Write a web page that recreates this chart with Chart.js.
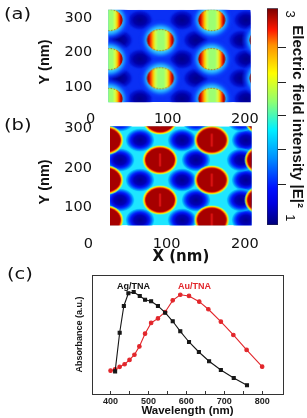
<!DOCTYPE html>
<html>
<head>
<meta charset="utf-8">
<script src="https://cdn.jsdelivr.net/npm/chart.js@4.4.1/dist/chart.umd.min.js"></script>
<style>
  html, body { margin: 0; padding: 0; background: #fff; overflow: hidden; }
  #wrap { position: relative; width: 307px; height: 418px; }
  canvas { position: absolute; }
  .lbl { position: absolute; white-space: nowrap; color: #111; }
  .panel { font-family: 'DejaVu Sans'; font-size: 15px; line-height: 15px; transform: scaleX(1.3); transform-origin: left top; }
  .series { font-family: 'Liberation Sans'; font-weight: bold; font-size: 9px; line-height: 9px; }
</style>
</head>
<body>
<div id="wrap">
  <canvas id="mapA" width="260" height="125" style="left:0;top:0"></canvas>
  <canvas id="mapB" width="260" height="152" style="left:0;top:118px"></canvas>
  <canvas id="cbar" width="52" height="235" style="left:255px;top:0"></canvas>
  <canvas id="spec" width="300" height="156" style="left:0;top:262px"></canvas>
  <div class="lbl panel" style="left:4px;top:7px">(a)</div>
  <div class="lbl panel" style="left:4px;top:118px">(b)</div>
  <div class="lbl panel" style="left:7px;top:267px">(c)</div>
  <div class="lbl series" style="left:117px;top:282px">Ag/TNA</div>
  <div class="lbl series" style="left:178px;top:282px;color:#e2262b">Au/TNA</div>
</div>
<script>
// ---- field maps, positions in nm ----
const mapXTicks = [0, 100, 200]
const mapYTicks = [100, 200, 300]

// (a)
const aXRange = [23, 207.5]
const aYRange = [56, 324]
const aPartX = [24, 157, 24, 157, 24, 157, 90.5, 223.5, 90.5, 223.5]
const aPartY = [294, 294, 181, 181, 66, 66, 236, 236, 125.5, 125.5]
const aDarkX = [64, 118.5, 201.5, 64, 118.5, 201.5, 64, 118.5, 201.5, 38, 136.5, 195, 38, 136.5, 195]
const aDarkY = [294, 294, 294, 181, 181, 181, 66, 66, 66, 236, 236, 236, 125.5, 125.5, 125.5]

// (b)
const bXRange = [27.7, 208.7]
const bYRange = [54, 305]
const bPartX = [22.5, 157.6, 22.5, 157.6, 22.5, 157.6, 91.6, 222, 91.6, 222, 91.6, 222]
const bPartY = [270, 270, 169, 169, 68, 68, 321, 321, 220, 220, 118.5, 118.5]
const bDarkX = [66, 119.7, 201.4, 66, 119.7, 201.4, 66, 119.7, 201.4, 40.5, 137.5, 195, 40.5, 137.5, 195, 40.5, 137.5, 195]
const bDarkY = [270, 270, 270, 169, 169, 169, 68, 68, 68, 321, 321, 321, 220, 220, 220, 118.5, 118.5, 118.5]

// colour bar
const cbarRange = [0.931, 3.056]
const cbarTicks = [1, 1.333, 1.667, 2, 2.333, 2.667, 3]
const cbarLabelled = [1, 3]

// (c) absorbance spectra
const agWl = [412, 424, 435, 447, 461, 477, 491, 507, 525, 544, 564, 584, 607, 633, 660, 691, 725, 760]
const agAbs = [0.19, 0.515, 0.74, 0.846, 0.857, 0.824, 0.792, 0.779, 0.74, 0.683, 0.611, 0.527, 0.437, 0.353, 0.275, 0.202, 0.134, 0.073]
const auWl = [400, 412, 424, 437, 450, 463, 476, 491, 507, 525, 544, 564, 584, 607, 634, 658, 691, 724, 759, 800]
const auAbs = [0.196, 0.207, 0.228, 0.25, 0.286, 0.33, 0.40, 0.507, 0.597, 0.635, 0.689, 0.787, 0.834, 0.824, 0.776, 0.712, 0.608, 0.496, 0.37, 0.23]
const specTicks = [400, 450, 500, 550, 600, 650, 700, 750, 800]

// jet-like colour map of the bar, bottom to top
const jetStops = [[0, '#00007a'], [0.1, '#0000e0'], [0.17, '#0010ff'], [0.31, '#0090ff'], [0.44, '#00f0ff'],
  [0.57, '#90ff70'], [0.7, '#ffff00'], [0.83, '#ff9000'], [0.9, '#ff1800'], [1, '#7a0000']]

Chart.defaults.font.family = 'Liberation Sans'
Chart.defaults.color = '#111'

const pts = (xs, ys) => xs.map((x, i) => ({ x: x, y: ys[i] }))
//fixed axis boxes, no extra label padding so the plot areas land where they should
const noPad = (s) => { s.paddingLeft = 0; s.paddingRight = 0; s.paddingTop = 0; s.paddingBottom = 0 }
const fixW = (w) => (s) => { s.width = w; noPad(s) }
const fixH = (h) => (s) => { s.height = h; noPad(s) }
const setTicks = (vals) => (s) => { s.ticks = vals.map((v) => ({ value: v })) }

//small sprites used as point styles
function sprite(w, h, paint) {
    const c = document.createElement('canvas')
    c.width = w
    c.height = h
    paint(c.getContext('2d'), w / 2, h / 2)
    return c
}
function ellipse(g, cx, cy, rx, ry) {
    g.beginPath()
    g.ellipse(cx, cy, rx, ry, 0, 0, Math.PI * 2)
}
function softBlob(g, cx, cy, rx, ry, stops) {
    g.save()
    g.translate(cx, cy)
    g.scale(1, ry / rx)
    const rg = g.createRadialGradient(0, 0, 0, 0, 0, rx)
    stops.forEach((s) => rg.addColorStop(s[0], s[1]))
    g.fillStyle = rg
    g.beginPath()
    g.arc(0, 0, rx, 0, Math.PI * 2)
    g.fill()
    g.restore()
}

const partA = sprite(30, 26, (g, cx, cy) => {
    const lg = g.createLinearGradient(cx - 13.5, 0, cx + 13.5, 0)
    const st = [[0, '#780000'], [0.08, '#cc0000'], [0.16, '#ff5a00'], [0.24, '#ffd000'], [0.32, '#d0ff50'],
        [0.42, '#9cff72'], [0.62, '#9cff72'], [0.72, '#d8ff48'], [0.8, '#ffc800'], [0.87, '#ff4a00'],
        [0.93, '#c80000'], [1, '#7a0000']]
    st.forEach((s) => lg.addColorStop(s[0], s[1]))
    g.fillStyle = lg
    ellipse(g, cx, cy, 13.5, 11)
    g.fill()
    g.setLineDash([1.5, 1.5])
    g.lineWidth = 0.9
    g.strokeStyle = 'rgba(170,40,0,0.85)'
    ellipse(g, cx, cy, 13, 10.6)
    g.stroke()
})
const haloA = sprite(50, 50, (g, cx, cy) => {
    softBlob(g, cx, cy, 22, 21, [[0, '#40d0ff'], [0.58, '#34c0ff'], [0.68, '#1a8cff'],
        [0.82, 'rgba(10,70,255,0.7)'], [1, 'rgba(10,48,245,0)']])
})
const darkA = sprite(32, 26, (g, cx, cy) => {
    softBlob(g, cx, cy, 14, 11, [[0, '#00008a'], [0.45, '#0000a8'], [0.75, 'rgba(0,10,200,0.7)'], [1, 'rgba(10,48,245,0)']])
})
const partB = sprite(40, 34, (g, cx, cy) => {
    const rings = [[17.5, 14.8, 'rgba(130,255,150,0.7)'], [16.6, 14, '#ffef00'], [15.8, 13.2, '#ff8a00'],
        [15, 12.5, '#e01000'], [14.3, 11.8, '#a60000']]
    rings.forEach((r) => {
        g.fillStyle = r[2]
        ellipse(g, cx, cy, r[0], r[1])
        g.fill()
    })
    g.fillStyle = 'rgba(225,20,20,0.85)'
    g.fillRect(cx - 1.2, cy - 6.5, 2.4, 13)
})
const darkB = sprite(34, 28, (g, cx, cy) => {
    softBlob(g, cx, cy, 15, 12, [[0, '#000090'], [0.4, '#0000b8'], [0.62, '#0018f8'], [0.78, '#0068ff'],
        [0.9, 'rgba(0,170,255,0.8)'], [1, 'rgba(30,232,255,0)']])
})

function mapChart(id, o) {
    const sets = [
        { type: 'line', data: [{ x: o.xr[0], y: o.yr[1] }, { x: o.xr[1], y: o.yr[1] }], fill: 'start',
          backgroundColor: o.base, borderWidth: 0, pointRadius: 0, order: 10 },
        { data: pts(o.darkX, o.darkY), pointStyle: o.dark, pointRadius: 17, clip: 0, order: 9 }
    ]
    if (o.halo) sets.push({ data: pts(o.partX, o.partY), pointStyle: o.halo, pointRadius: 25, clip: 0, order: 8 })
    sets.push({ data: pts(o.partX, o.partY), pointStyle: o.part, pointRadius: 20, clip: 0, order: 1 })
    const tickFont = { family: 'DejaVu Sans', size: 14.5 }
    return new Chart(document.getElementById(id), {
        type: 'scatter',
        data: { datasets: sets },
        options: {
            responsive: false, animation: false, events: [],
            layout: { autoPadding: false, padding: o.pad },
            plugins: { legend: { display: false }, tooltip: { enabled: false } },
            scales: {
                x: {
                    type: 'linear', min: o.xr[0], max: o.xr[1],
                    afterBuildTicks: setTicks(mapXTicks), afterFit: fixH(o.xh),
                    grid: { display: false }, border: { display: false },
                    ticks: { autoSkip: false, maxRotation: 0, padding: o.xpad, font: tickFont },
                    title: o.xTitle ? { display: true, text: o.xTitle, font: { family: 'DejaVu Sans', size: 15, weight: 'bold' },
                        padding: { top: 0, bottom: 4 } } : { display: false }
                },
                y: {
                    min: o.yr[0], max: o.yr[1],
                    afterBuildTicks: setTicks(mapYTicks), afterFit: fixW(o.yw),
                    grid: { display: false }, border: { display: false },
                    ticks: { autoSkip: false, padding: o.ypad, font: tickFont },
                    title: { display: true, text: 'Y (nm)\u00a0\u00a0\u00a0', font: { size: 14.5, weight: 'bold' },
                        padding: { top: 36.3, bottom: 0 } }
                }
            }
        }
    })
}

mapChart('mapA', {
    xr: aXRange, yr: aYRange, base: '#0a30f5',
    partX: aPartX, partY: aPartY, darkX: aDarkX, darkY: aDarkY,
    part: partA, halo: haloA, dark: darkA,
    pad: { left: 0, top: 9.7, right: 9.3, bottom: 0 }, xh: 22.7, yw: 108.3, xpad: 0.5, ypad: 8
})
mapChart('mapB', {
    xr: bXRange, yr: bYRange, base: '#1ee6ff',
    partX: bPartX, partY: bPartY, darkX: bDarkX, darkY: bDarkY,
    part: partB, halo: null, dark: darkB, xTitle: 'X (nm)',
    pad: { left: 0, top: 8.3, right: 8.3, bottom: 0 }, xh: 44.5, yw: 110, xpad: 1.8, ypad: 10
})

//colour bar
new Chart(document.getElementById('cbar'), {
    type: 'bar',
    data: {
        labels: [''],
        datasets: [{
            data: [cbarRange],
            backgroundColor: (c) => {
                const area = c.chart.chartArea
                if (!area) return '#00f'
                const g = c.chart.ctx.createLinearGradient(0, area.bottom, 0, area.top)
                jetStops.forEach((s) => g.addColorStop(s[0], s[1]))
                return g
            },
            borderColor: '#2a2a40', borderWidth: 0.8, borderSkipped: false,
            barPercentage: 1, categoryPercentage: 1
        }]
    },
    options: {
        responsive: false, animation: false, events: [],
        layout: { autoPadding: false, padding: { left: 12, top: 8.3, right: 0, bottom: 10 } },
        plugins: { legend: { display: false }, tooltip: { enabled: false } },
        scales: {
            x: { display: false },
            y: {
                position: 'right', min: cbarRange[0], max: cbarRange[1],
                afterBuildTicks: setTicks(cbarTicks), afterFit: fixW(29),
                grid: {
                    display: true, drawOnChartArea: false, tickLength: 8, lineWidth: 1,
                    color: (c) => (c.tick && cbarLabelled.includes(c.tick.value)) ? 'rgba(0,0,0,0)' : '#222'
                },
                border: { display: false },
                ticks: {
                    autoSkip: false, minRotation: -90, maxRotation: -90, crossAlign: 'center', padding: 0.4,
                    callback: (v) => cbarLabelled.includes(v) ? String(v) : '',
                    font: { size: 13 }
                },
                title: { display: true, text: 'Electric field intensity |E|\u00b2', font: { size: 15, weight: 'bold' },
                    padding: { top: 1, bottom: 0 } }
            }
        }
    }
})

//absorbance spectra
new Chart(document.getElementById('spec'), {
    type: 'line',
    data: {
        datasets: [{
            label: 'Ag/TNA', data: pts(agWl, agAbs),
            borderColor: '#161616', backgroundColor: '#161616', borderWidth: 1.1,
            pointStyle: 'rect', pointRadius: 2.1, tension: 0
        }, {
            label: 'Au/TNA', data: pts(auWl, auAbs),
            borderColor: '#e2262b', backgroundColor: '#e2262b', borderWidth: 1.1,
            pointStyle: 'circle', pointRadius: 1.8, tension: 0
        }]
    },
    options: {
        responsive: false, animation: false, events: [],
        layout: { autoPadding: false, padding: { left: 0, top: 13, right: 17, bottom: 0 } },
        plugins: { legend: { display: false }, tooltip: { enabled: false } },
        scales: {
            x: {
                type: 'linear', min: 351, max: 855,
                afterBuildTicks: setTicks(specTicks), afterFit: fixH(24),
                grid: { display: true, drawOnChartArea: false, tickLength: -3, color: '#333' },
                border: { display: true, color: '#333', width: 1 },
                ticks: {
                    autoSkip: false, maxRotation: 0, padding: 5.1,
                    callback: (v) => v % 100 === 0 ? String(v) : '',
                    font: { size: 9, weight: 'bold' }, color: '#222'
                },
                title: { display: true, text: 'Wavelength (nm)', font: { size: 11.5, weight: 'bold' },
                    padding: { top: 0, bottom: 0.6 } }
            },
            y: {
                min: 0, max: 1, afterFit: fixW(92),
                ticks: { display: false }, grid: { display: false },
                border: { display: true, color: '#333', width: 1 },
                title: { display: true, text: 'Absorbance (a.u.)', font: { size: 9, weight: 'bold' },
                    padding: { top: 74.6, bottom: 0 } }
            },
            x2: {
                type: 'linear', position: 'top', display: true, min: 351, max: 855, afterFit: fixH(0),
                ticks: { display: false }, grid: { display: false },
                border: { display: true, color: '#333', width: 1 }
            },
            y2: {
                position: 'right', display: true, min: 0, max: 1, afterFit: fixW(0),
                ticks: { display: false }, grid: { display: false },
                border: { display: true, color: '#333', width: 1 }
            }
        }
    }
})
</script>
</body>
</html>
